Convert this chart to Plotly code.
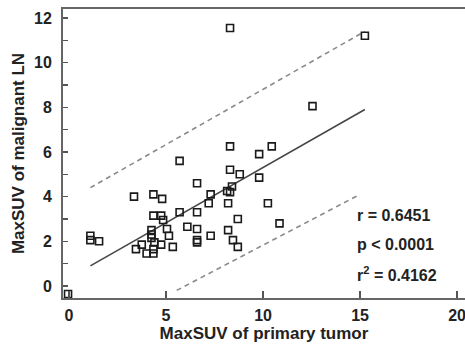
import plotly.graph_objects as go

# Data points (MaxSUV primary tumor, MaxSUV malignant LN)
suv_tumor = [1.1, 1.1, 1.55, 3.35, 3.45, 3.75, 4.0, 4.35, 4.35, 4.4, 4.25, 4.25, 4.25,
             4.35, 4.35, 4.75, 4.8, 4.85, 4.75, 5.05, 5.15, 5.35, 5.7, 5.7, 6.1, 6.6,
             6.6, 6.6, 6.6, 6.6, 7.2, 7.3, 7.3, 8.15, 8.3, 8.4, 8.2, 8.3, 8.8, 8.3, 8.3,
             8.7, 8.2, 8.45, 8.7, 9.8, 9.8, 10.45, 10.25, 10.85, 12.55, 15.25, -0.05]
suv_ln = [2.25, 2.05, 2.0, 4.0, 1.65, 1.85, 1.45, 1.45, 1.65, 1.95, 2.15, 2.3, 2.5,
          4.1, 3.15, 3.15, 3.9, 2.95, 1.85, 2.55, 2.25, 1.75, 3.3, 5.6, 2.65, 4.6,
          3.3, 2.55, 2.05, 1.95, 3.7, 4.1, 2.25, 4.25, 4.2, 4.45, 3.7, 5.2, 5.0, 6.25, 11.55,
          3.0, 2.5, 2.05, 1.75, 5.9, 4.85, 6.25, 3.7, 2.8, 8.05, 11.2, -0.36]

# Regression line and prediction band endpoints
fit_x = [1.1, 15.25]
fit_y = [0.9, 7.9]
upper_x = [1.1, 15.25]
upper_y = [4.4, 11.4]
lower_x = [5.55, 15.0]
lower_y = [-0.2, 4.1]

stats_text = ["r = 0.6451", "p < 0.0001", "r<sup>2</sup> = 0.4162"]
stats_y = [3.15, 1.85, 0.52]

x_ticks = [0, 5, 10, 15, 20]
y_ticks = [0, 2, 4, 6, 8, 10, 12]

FONT = "Liberation Sans, Arial, sans-serif"
TXT = "#222222"

fig = go.Figure()
fig.add_trace(go.Scatter(x=upper_x, y=upper_y, mode="lines",
                         line=dict(color="#8a8a8a", width=1.6, dash="5px,4px"),
                         hoverinfo="skip", showlegend=False))
fig.add_trace(go.Scatter(x=lower_x, y=lower_y, mode="lines",
                         line=dict(color="#8a8a8a", width=1.6, dash="5px,4px"),
                         hoverinfo="skip", showlegend=False))
fig.add_trace(go.Scatter(x=fit_x, y=fit_y, mode="lines",
                         line=dict(color="#444444", width=1.5),
                         hoverinfo="skip", showlegend=False))
fig.add_trace(go.Scatter(x=suv_tumor, y=suv_ln, mode="markers",
                         marker=dict(symbol="square-open", size=7, color="#1a1a1a",
                                     line=dict(width=1.6, color="#1a1a1a")),
                         cliponaxis=True, showlegend=False))

for t, yv in zip(stats_text, stats_y):
    fig.add_annotation(x=14.75, y=yv, text=t, showarrow=False, xanchor="left",
                       yanchor="middle",
                       font=dict(family=FONT, size=16, color=TXT, weight="bold"))

fig.update_layout(
    width=465, height=346,
    margin=dict(l=63, r=0, t=9, b=48, autoexpand=False),
    paper_bgcolor="white", plot_bgcolor="white",
    font=dict(family=FONT, color=TXT, weight="bold"),
    showlegend=False,
)
fig.update_xaxes(range=[-0.31, 20.41], tickvals=x_ticks, ticks="inside", ticklen=7,
                 tickwidth=1.5, tickcolor="#555555", showgrid=False, zeroline=False,
                 showline=True, linecolor="#666666", linewidth=2, mirror=True,
                 automargin=False, ticklabeloverflow="allow",
                 tickfont=dict(family=FONT, size=16, color=TXT, weight="bold"),
                 ticklabelstandoff=2,
                 title=dict(text="MaxSUV of primary tumor", standoff=2,
                            font=dict(family=FONT, size=17, color=TXT, weight="bold")))
fig.update_yaxes(range=[-0.54, 12.4], tickvals=y_ticks, ticks="inside", ticklen=5,
                 tickwidth=1.5, tickcolor="#555555", showgrid=False, zeroline=False,
                 showline=True, linecolor="#666666", linewidth=2,
                 automargin=False, ticklabeloverflow="allow",
                 minor=dict(tickvals=[1, 3, 5, 7, 9, 11], ticks="inside", ticklen=5,
                            tickwidth=1.5, tickcolor="#555555", showgrid=False),
                 tickfont=dict(family=FONT, size=16, color=TXT, weight="bold"),
                 ticklabelstandoff=6,
                 title=dict(text="MaxSUV of malignant LN", standoff=5,
                            font=dict(family=FONT, size=17, color=TXT, weight="bold")))

fig.write_html("out.html", config={"displayModeBar": False, "staticPlot": True},
               post_script="document.body.style.margin='0';document.body.style.overflow='hidden';")
